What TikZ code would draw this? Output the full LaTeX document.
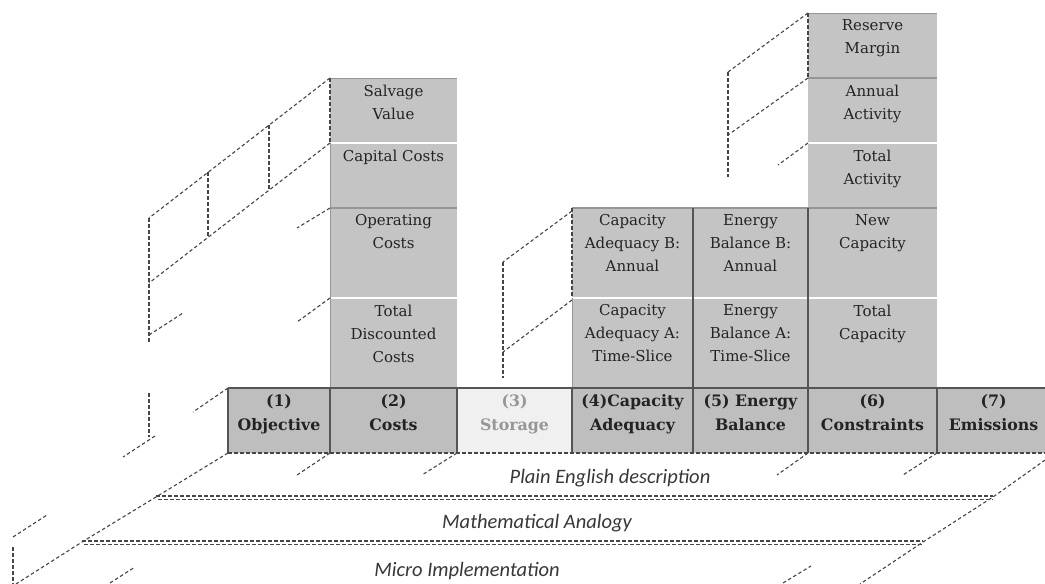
\documentclass[tikz,border=0pt]{standalone}
\usepackage{fontspec}
\setmainfont{DejaVu Serif}
\newfontfamily\bandfont{Carlito}
\definecolor{cellgray}{RGB}{196,196,196}
\definecolor{rowgray}{RGB}{190,190,190}
\definecolor{storfill}{RGB}{240,240,240}
\definecolor{storink}{RGB}{150,150,150}
\definecolor{ink}{RGB}{35,35,35}
\definecolor{sepd}{RGB}{85,85,85}
\definecolor{sepm}{RGB}{150,150,150}
\definecolor{dashc}{RGB}{70,70,70}
\definecolor{bandc}{RGB}{55,55,55}
\tikzset{
  cellbox/.style={fill=cellgray, draw=none, inner sep=0pt, outer sep=0pt, anchor=north west},
  celltext/.style={anchor=north, align=center, inner sep=0pt, text=ink, font=\fontsize{15}{23}\selectfont},
  rowtext/.style={celltext, font=\fontsize{15.8}{24}\selectfont\bfseries},
  sepdark/.style={draw=sepd, line width=1.3pt},
  sepmid/.style={draw=sepm, line width=1.3pt},
  sepwhite/.style={draw=white, line width=1.4pt},
  persp/.style={draw=dashc, line width=1.1pt, dash pattern=on 3.5pt off 2.5pt},
  bandline/.style={draw=dashc, line width=1.1pt, dash pattern=on 4pt off 2pt},
  bandlabel/.style={font=\bandfont\itshape\fontsize{20.5}{20.5}\selectfont, text=bandc, inner sep=0pt}
}
\newcommand\mkcell[6]{%
  \node[cellbox, minimum width={#4pt-#2pt}, minimum height={#5pt-#3pt}] (#1) at (#2,#3) {};
  \node[celltext] (#1-t) at ([yshift=-6.5pt]#1.north) {#6};}
\newcommand\mkrow[6]{%
  \node[cellbox, fill=#5, minimum width={#3pt-#2pt}, minimum height=65pt] (#1) at (#2,388) {};
  \node[rowtext, text=#6] (#1-t) at ([yshift=-6pt]#1.north) {#4};}
\begin{document}
\begin{tikzpicture}[x=1pt,y=-1pt]
\useasboundingbox (0,0) rectangle (1045,584);
\clip (0,0) rectangle (1045,584);

% ---- stacked cells
\mkcell{salv}{330}{78}{457}{143}{Salvage\\Value}
\mkcell{capc}{330}{143}{457}{208}{Capital Costs}
\mkcell{opc}{330}{208}{457}{298}{Operating\\Costs}
\mkcell{tdc}{330}{298}{457}{388}{Total\\Discounted\\Costs}
\mkcell{cab}{572}{208}{693}{298}{Capacity\\Adequacy B:\\Annual}
\mkcell{caa}{572}{298}{693}{388}{Capacity\\Adequacy A:\\Time-Slice}
\mkcell{ebb}{693}{208}{808}{298}{Energy\\Balance B:\\Annual}
\mkcell{eba}{693}{298}{808}{388}{Energy\\Balance A:\\Time-Slice}
\mkcell{resm}{808}{13}{937}{78}{Reserve\\Margin}
\mkcell{anna}{808}{78}{937}{143}{Annual\\Activity}
\mkcell{tota}{808}{143}{937}{208}{Total\\Activity}
\mkcell{newc}{808}{208}{937}{298}{New\\Capacity}
\mkcell{totc}{808}{298}{937}{388}{Total\\Capacity}

% ---- row of sections
\mkrow{obj}{228}{330}{(1)\\Objective}{rowgray}{ink}
\mkrow{cost}{330}{457}{(2)\\Costs}{rowgray}{ink}
\mkrow{stor}{457}{572}{(3)\\Storage}{storfill}{storink}
\mkrow{capad}{572}{693}{(4)Capacity\\Adequacy}{rowgray}{ink}
\mkrow{enbal}{693}{808}{(5) Energy\\Balance}{rowgray}{ink}
\mkrow{cons}{808}{937}{(6)\\Constraints}{rowgray}{ink}
\mkrow{emis}{937}{1050}{(7)\\Emissions}{rowgray}{ink}

% ---- separators between stacked cells
\draw[sepwhite] (salv.south west) -- (salv.south east);
\draw[sepmid] (capc.south west) -- (capc.south east);
\draw[sepwhite] (opc.south west) -- (opc.south east);
\draw[sepwhite] (cab.south west) -- (ebb.south east);
\draw[sepmid] (cab.north west) -- (newc.north east);
\draw[sepmid] (resm.south west) -- (resm.south east);
\draw[sepwhite] (anna.south west) -- (anna.south east);
\draw[sepwhite] (newc.south west) -- (newc.south east);
\draw[draw=sepm, line width=0.8pt] (salv.north west) -- (salv.north east);
\draw[draw=sepm, line width=0.8pt] (resm.north west) -- (resm.north east);
\draw[sepdark] (ebb.north west) -- (enbal.south west);
\draw[sepdark] (newc.north west) -- (cons.south west);
\draw[draw=sepm, line width=1pt] (caa.north west) -- (caa.south west);
\draw[draw=sepm, line width=1pt] (capc.north west) -- (tdc.south west);

% ---- row borders
\draw[sepdark] (obj.north west) -- (emis.north east);
\draw[sepdark] (obj.north west) -- (obj.south west);
\foreach \n in {cost,stor,capad,cons,emis}
  \draw[sepdark] (\n.north west) -- (\n.south west);
\draw[persp] (obj.south west) -- (emis.south east);

% ---- dashed edges on the cells
\draw[persp] (salv.north west) -- (salv.south west);
\draw[persp] (cab.north west) -- (cab.south west);
\draw[persp] (resm.north west) -- (resm.south west);

% ---- perspective planes (upper left)
\draw[persp] (salv.north west) -- (149,218);
\draw[persp] (salv.south west) -- (149,283);
\draw[persp] (269,125) -- (269,190);
\draw[persp] (208,172) -- (208,237);
\draw[persp] (149,218) -- (149,343);
\draw[persp] (149,335) -- (183,313);
\draw[persp] (149,393) -- (149,437);
\draw[persp] (155,436) -- (123,457);
\draw[persp] (opc.north west) -- (297,228);
\draw[persp] (tdc.north west) -- (297,322);
\draw[persp] (obj.north west) -- (193,412);

% ---- perspective plane near capacity adequacy
\draw[persp] (572,211) -- (503,262);
\draw[persp] (572,300) -- (503,352);
\draw[persp] (503,262) -- (503,378);

% ---- perspective plane near constraints
\draw[persp] (resm.north west) -- (728,72);
\draw[persp] (resm.south west) -- (728,135);
\draw[persp] (728,72) -- (728,177);
\draw[persp] (tota.north west) -- (778,165);

% ---- layers below
\draw[persp] (obj.south west) -- (156,497) -- (82,542) -- (16,584);
\draw[persp] (1055,453) -- (993,497) -- (923,542) -- (860,584);
\draw[bandline] (156,496) -- (993,496);
\draw[bandline] (158,499.5) -- (993,499.5);
\draw[bandline] (82,541) -- (923,541);
\draw[bandline] (84,544.5) -- (923,544.5);
\draw[persp] (cost.south west) -- (297,475);
\draw[persp] (stor.south west) -- (422,475);
\draw[persp] (cons.south west) -- (777,475);
\draw[persp] (emis.south west) -- (903,475);
\draw[persp] (13,537) -- (47,515);
\draw[persp] (13,547) -- (13,584);
\draw[persp] (110,583) -- (135,567);
\draw[persp] (783,583) -- (811,566);

\node[bandlabel] (pe) at (610,478) {Plain English description};
\node[bandlabel] (ma) at (537,523) {Mathematical Analogy};
\node[bandlabel] (mi) at (467,571) {Micro Implementation};
\end{tikzpicture}
\end{document}
